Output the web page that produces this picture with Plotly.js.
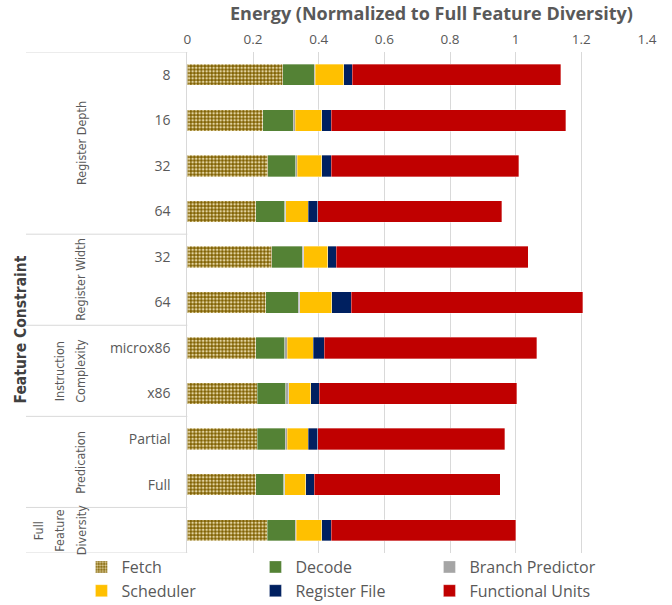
<!DOCTYPE html>
<html>
<head>
<meta charset="utf-8">
<script src="https://cdn.plot.ly/plotly-3.0.1.min.js"></script>
<style>html,body{margin:0;padding:0;background:#fff;}#chart{width:672px;height:605px;}</style>
</head>
<body>
<div id="chart"></div>
<script>
// Categories (top to bottom)
const categories = ['8', '16', '32', '64', '32', '64', 'microx86', 'x86', 'Partial', 'Full', ''];
const groupLines = [['Register Depth'], ['Register Width'], ['Instruction', 'Complexity'], ['Predication'], ['Full', 'Feature', 'Diversity']];
const groupSizes = [4, 2, 2, 2, 1];

// Segment values (energy, normalized)
const fetch      = [0.290, 0.230, 0.245, 0.208, 0.257, 0.239, 0.208, 0.213, 0.213, 0.208, 0.243];
const decode     = [0.096, 0.092, 0.085, 0.088, 0.093, 0.098, 0.089, 0.087, 0.085, 0.086, 0.085];
const branchPred = [0.004, 0.007, 0.004, 0.004, 0.004, 0.005, 0.007, 0.009, 0.006, 0.003, 0.003];
const scheduler  = [0.086, 0.080, 0.075, 0.068, 0.074, 0.098, 0.079, 0.067, 0.064, 0.064, 0.078];
const regFile    = [0.026, 0.029, 0.029, 0.029, 0.025, 0.059, 0.034, 0.025, 0.029, 0.025, 0.029];
const funcUnits  = [0.636, 0.715, 0.571, 0.560, 0.585, 0.706, 0.647, 0.603, 0.570, 0.567, 0.562];

const xTickVals = [0, 0.2, 0.4, 0.6, 0.8, 1, 1.2, 1.4];

const yIdx = categories.map((c, i) => i);
const outline = {color: 'rgba(255,255,255,0.55)', width: 0.6};
const barW = 0.47;

function bar(name, vals, color, extra) {
  const m = Object.assign({color: color, line: outline}, extra || {});
  return {type: 'bar', orientation: 'h', name: name, x: vals, y: yIdx, width: barW,
          marker: m, hoverinfo: 'x+name'};
}

const traces = [
  bar('Fetch', fetch, '#7f6000', {pattern: {shape: '.', fgcolor: '#e2d3a0', bgcolor: '#7f6000', size: 3.5, solidity: 0.45, fillmode: 'replace'}}),
  bar('Decode', decode, '#548235'),
  bar('Branch Predictor', branchPred, '#a5a5a5'),
  bar('Scheduler', scheduler, '#ffc000'),
  bar('Register File', regFile, '#002060'),
  bar('Functional Units', funcUnits, '#c00000')
];

const gridCol = '#d9d9d9';
const textCol = '#595959';
const W = 672, H = 605;
const mL = 20, mR = 24.5, mT = 52, mB = 52;
const gsW = W - mL - mR, gsH = H - mT - mB;
const axisLeftPx = 187.5;
const pxToPaper = px => (px - mL) / gsW;
const pyToPaper = py => 1 - (py - mT) / gsH;
const narrow = '"Liberation Sans Narrow", "DejaVu Sans Condensed", sans-serif';

// group labels and dividers computed from the group arrays
const annotations = [];
const shapes = [];
let start = 0;
shapes.push({type: 'line', xref: 'paper', yref: 'y', x0: pxToPaper(26), x1: pxToPaper(axisLeftPx), y0: -0.5, y1: -0.5, line: {color: gridCol, width: 1}});
groupLines.forEach((lines, k) => {
  const n = groupSizes[k];
  const center = start + (n - 1) / 2;
  lines.forEach((ln, i) => {
    annotations.push({text: ln, xref: 'paper', yref: 'y', x: pxToPaper(81 - (lines.length - 1 - i) * 21.5), y: center,
      xanchor: 'center', yanchor: 'middle', textangle: -90, showarrow: false,
      font: {family: narrow, size: 12.5, color: textCol}});
  });
  start += n;
  shapes.push({type: 'line', xref: 'paper', yref: 'y', x0: pxToPaper(26), x1: pxToPaper(axisLeftPx), y0: start - 0.5, y1: start - 0.5, line: {color: gridCol, width: 1}});
});

annotations.push({text: '<b>Feature Constraint</b>', xref: 'paper', yref: 'paper', x: pxToPaper(21), y: pyToPaper(329.5),
  xanchor: 'center', yanchor: 'middle', textangle: -90, showarrow: false,
  font: {family: narrow, size: 15.5, color: '#404040'}});
annotations.push({text: '<b>Energy (Normalized to Full Feature Diversity)</b>', xref: 'paper', yref: 'paper',
  x: pxToPaper(432), y: pyToPaper(13), xanchor: 'center', yanchor: 'middle', showarrow: false,
  font: {family: '"Open Sans", sans-serif', size: 18, color: textCol}});

const layout = {
  width: W, height: H,
  margin: {l: mL, r: mR, t: mT, b: mB, autoexpand: false},
  paper_bgcolor: '#ffffff', plot_bgcolor: '#ffffff',
  barmode: 'stack',
  font: {family: '"Open Sans", sans-serif', color: textCol, size: 13},
  xaxis: {side: 'top', domain: [pxToPaper(axisLeftPx), 1], range: [0, 1.4], tickvals: xTickVals, ticktext: xTickVals.map(String),
    showgrid: true, gridcolor: gridCol, gridwidth: 1, zeroline: false, showline: false,
    ticks: '', ticklabelstandoff: 4, tickfont: {size: 13.5, color: textCol}, fixedrange: true},
  yaxis: {range: [10.5, -0.5], tickvals: yIdx, ticktext: categories, showgrid: false, zeroline: false,
    showline: true, linecolor: gridCol, linewidth: 1, ticks: '', ticklabelstandoff: 13,
    tickfont: {size: 14, color: textCol}, fixedrange: true},
  legend: {orientation: 'h', x: pxToPaper(81.5), xanchor: 'left', y: pyToPaper(550), yanchor: 'top',
    entrywidth: 129, entrywidthmode: 'pixels', traceorder: 'normal',
    font: {size: 16, color: textCol}, bgcolor: 'rgba(0,0,0,0)'},
  shapes: shapes,
  annotations: annotations,
  showlegend: true
};

Plotly.newPlot('chart', traces, layout, {displayModeBar: false, staticPlot: true});
</script>
</body>
</html>
